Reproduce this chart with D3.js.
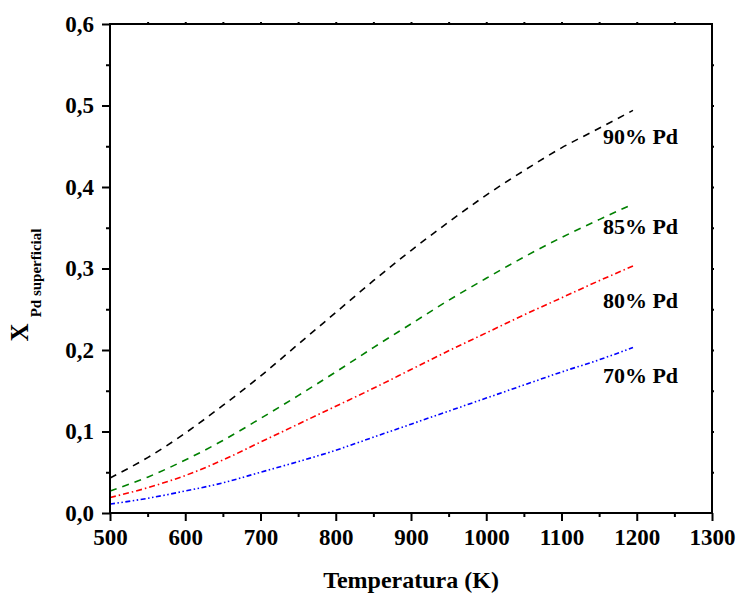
<!DOCTYPE html>
<html>
<head>
<meta charset="utf-8">
<script src="https://cdn.jsdelivr.net/npm/d3@7"></script>
<style>
  html, body { margin: 0; padding: 0; background: #fff; }
  svg { display: block; }
  text { font-family: "Liberation Serif", "Times New Roman", serif; font-weight: bold; }
</style>
</head>
<body>
<div id="chart"></div>
<script>
// ---- data ----
const temperatures = [500, 550, 600, 650, 700, 750, 800, 850, 900, 950, 1000, 1050, 1100, 1150, 1195];
const pd90 = [0.043, 0.068, 0.098, 0.132, 0.168, 0.207, 0.246, 0.285, 0.322, 0.357, 0.390, 0.420, 0.448, 0.472, 0.494];
const pd85 = [0.027, 0.044, 0.065, 0.089, 0.116, 0.144, 0.173, 0.203, 0.232, 0.261, 0.288, 0.314, 0.338, 0.360, 0.379];
const pd80 = [0.019, 0.031, 0.046, 0.065, 0.087, 0.109, 0.131, 0.153, 0.176, 0.199, 0.221, 0.243, 0.264, 0.285, 0.303];
const pd70 = [0.011, 0.018, 0.027, 0.037, 0.050, 0.063, 0.077, 0.093, 0.109, 0.125, 0.141, 0.157, 0.173, 0.188, 0.203];
const seriesNames = ["90% Pd", "85% Pd", "80% Pd", "70% Pd"];
const seriesColors = ["#000000", "#008000", "#ff0000", "#0000ff"];
const seriesDashes = ["7,6", "7,6", "6,3,1.5,3", "5,2.5,1.5,2.5,1.5,2.5"];
const xTicks = [500, 600, 700, 800, 900, 1000, 1100, 1200, 1300];
const yTicks = [0, 0.1, 0.2, 0.3, 0.4, 0.5, 0.6];
const xTitle = "Temperatura (K)";

const W = 740, H = 594;
const margin = {left: 110, right: 28, top: 24, bottom: 81};
const iw = W - margin.left - margin.right;
const ih = H - margin.top - margin.bottom;

const svg = d3.select("#chart").append("svg").attr("width", W).attr("height", H);
const g = svg.append("g").attr("transform", `translate(${margin.left},${margin.top})`);

const x = d3.scaleLinear().domain([500, 1300]).range([0, iw]);
const y = d3.scaleLinear().domain([0, 0.6]).range([ih, 0]);

const fmtY = d => d3.format(".1f")(d).replace(".", ",");

// curves
const allSeries = [pd90, pd85, pd80, pd70];
const line = d3.line().x((d, i) => x(temperatures[i])).y(d => y(d)).curve(d3.curveMonotoneX);
allSeries.forEach((s, k) => {
  g.append("path").datum(s)
    .attr("fill", "none")
    .attr("stroke", seriesColors[k])
    .attr("stroke-width", 1.6)
    .attr("stroke-dasharray", seriesDashes[k])
    .attr("d", line);
});

// axes
const minorX = d3.range(550, 1300, 100);
const minorY = d3.range(0.05, 0.6, 0.1);

function styleAxis(sel) {
  sel.select(".domain").remove();
  sel.selectAll("line").attr("stroke", "#000").attr("stroke-width", 2);
}

const xAxis = g.append("g").attr("transform", `translate(0,${ih})`)
  .call(d3.axisBottom(x).tickValues(xTicks).tickSize(8).tickPadding(8).tickFormat(d3.format("d")));
styleAxis(xAxis);
xAxis.selectAll("text").attr("font-size", 23).attr("fill", "#000");
g.append("g").attr("transform", `translate(0,${ih})`)
  .call(d3.axisBottom(x).tickValues(minorX).tickSize(4).tickFormat(""))
  .call(styleAxis);

const yAxis = g.append("g")
  .call(d3.axisLeft(y).tickValues(yTicks).tickSize(8).tickPadding(8).tickFormat(fmtY));
styleAxis(yAxis);
yAxis.selectAll("text").attr("font-size", 23).attr("fill", "#000");
g.append("g")
  .call(d3.axisLeft(y).tickValues(minorY).tickSize(4).tickFormat(""))
  .call(styleAxis);

// top & right small ticks
g.append("g").call(d3.axisTop(x).tickValues(d3.range(550, 1300, 50)).tickSize(2).tickFormat("")).call(styleAxis);
g.append("g").attr("transform", `translate(${iw},0)`)
  .call(d3.axisRight(y).tickValues(d3.range(0.05, 0.6, 0.05)).tickSize(2).tickFormat("")).call(styleAxis);

// frame
g.append("rect").attr("x", 0).attr("y", 0).attr("width", iw).attr("height", ih)
  .attr("fill", "none").attr("stroke", "#000").attr("stroke-width", 2);

// series labels
const labelY = [0.453, 0.342, 0.252, 0.160];
seriesNames.forEach((n, k) => {
  g.append("text").attr("x", x(1155)).attr("y", y(labelY[k]))
    .attr("font-size", 22).attr("fill", "#000").text(n);
});

// axis titles
svg.append("text").attr("x", margin.left + iw / 2).attr("y", 588)
  .attr("text-anchor", "middle").attr("font-size", 24).attr("fill", "#000").text(xTitle);

const yt = svg.append("text").attr("transform", "translate(28,285) rotate(-90)")
  .attr("text-anchor", "middle").attr("fill", "#000");
yt.append("tspan").attr("font-size", 25).text("X");
yt.append("tspan").attr("font-size", 15).attr("dx", 6).attr("dy", 13).text("Pd superficial");
</script>
</body>
</html>
